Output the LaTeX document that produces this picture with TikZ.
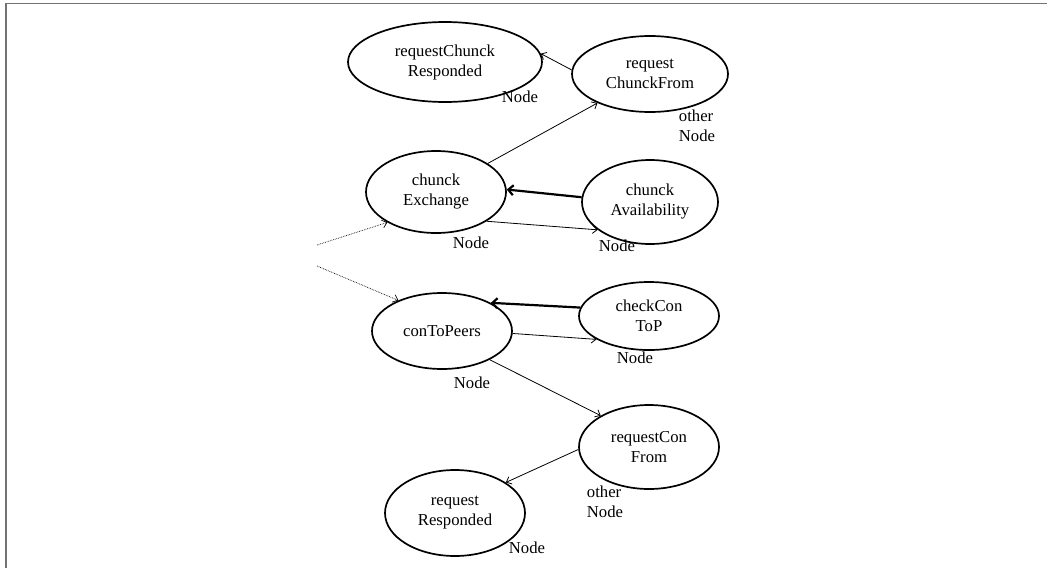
\documentclass[tikz,border=0pt]{standalone}
\usepackage{fontspec}
\setmainfont{Liberation Serif}
\usetikzlibrary{shapes.geometric, arrows.meta}
\begin{document}
\begin{tikzpicture}[x=1pt, y=-1pt,
    state/.style={ellipse, draw, line width=1.7pt, align=center, inner sep=0pt,
        font=\fontsize{16.7}{20}\selectfont},
    lbl/.style={align=left, inner sep=0pt, font=\fontsize{16.7}{20}\selectfont},
    thinarrow/.style={-{Straight Barb[length=4.5pt, width=8pt]}, line width=0.8pt},
    heavyarrow/.style={-{Straight Barb[length=5pt, width=10pt]}, line width=2.2pt},
    dotarrow/.style={-{Straight Barb[length=4.5pt, width=8pt]}, densely dotted, line width=0.7pt}]
        \useasboundingbox (0,0) rectangle (1047,568);

        % Frame
        \draw[black!55, line width=1.6pt] (1047,3.5) -- (6,3.5) -- (6,568);

        % States
        \node[state, minimum width=194, minimum height=80] (rcr) at (445,62) {requestChunck\\Responded};
        \node[state, minimum width=156, minimum height=76] (rcf) at (650,74) {request\\ChunckFrom};
        \node[state, minimum width=140, minimum height=82] (ce) at (436,192) {chunck\\Exchange};
        \node[state, minimum width=136, minimum height=84] (ca) at (650,202) {chunck\\Availability};
        \node[state, minimum width=140, minimum height=76] (ctp) at (442,331) {conToPeers};
        \node[state, minimum width=140, minimum height=68] (cct) at (649,316) {checkCon\\ToP};
        \node[state, minimum width=140, minimum height=84] (rcon) at (649,447) {requestCon\\From};
        \node[state, minimum width=140, minimum height=86] (rr) at (455,513) {request\\Responded};

        % Labels
        \node[lbl] (lrcr) at (520,97) {Node};
        \node[lbl] (lrcf) at (697,126) {other\\Node};
        \node[lbl] (lce) at (471,243) {Node};
        \node[lbl] (lca) at (617,246) {Node};
        \node[lbl] (lctp) at (472,383) {Node};
        \node[lbl] (lcct) at (635,358) {Node};
        \node[lbl] (lrcon) at (605,502) {other\\Node};
        \node[lbl] (lrr) at (527,548) {Node};

        % Entry points
        \coordinate (in1) at (317,245);
        \coordinate (in2) at (317,266);

        % Transitions
        \draw[thinarrow] (rcf.177) -- (rcr.5);
        \draw[thinarrow] (ce) -- (rcf);
        \draw[heavyarrow] (ca.176) -- (ce.2);
        \draw[thinarrow] (ce.-30) -- (ca.208);
        \draw[dotarrow] (in1) -- (ce.212);
        \draw[dotarrow] (in2) -- (ctp.145);
        \draw[heavyarrow] (cct.173) -- (ctp.30);
        \draw[thinarrow] (ctp.-2) -- (cct.204);
        \draw[thinarrow] (ctp.-31) -- (rcon.147);
        \draw[thinarrow] (rcon.182) -- (rr.31);
    \end{tikzpicture}
\end{document}
